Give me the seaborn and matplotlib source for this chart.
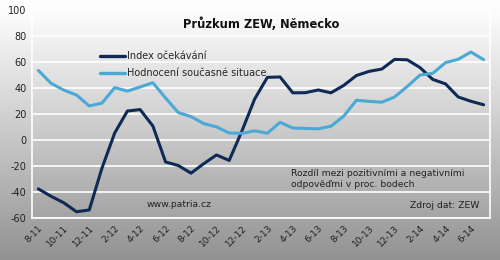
import numpy as np
import pandas as pd
import matplotlib
matplotlib.use("Agg")
import matplotlib.pyplot as plt
from matplotlib.colors import LinearSegmentedColormap
import seaborn as sns

months = ["8-11", "9-11", "10-11", "11-11", "12-11", "1-12", "2-12", "3-12", "4-12", "5-12",
          "6-12", "7-12", "8-12", "9-12", "10-12", "11-12", "12-12", "1-13", "2-13", "3-13",
          "4-13", "5-13", "6-13", "7-13", "8-13", "9-13", "10-13", "11-13", "12-13", "1-14",
          "2-14", "3-14", "4-14", "5-14", "6-14", "7-14"]
expectations = [-37.6, -43.3, -48.3, -55.2, -53.8, -21.6, 5.4, 22.3, 23.4, 10.8,
                -16.9, -19.6, -25.5, -18.2, -11.5, -15.7, 6.9, 31.5, 48.2, 48.5,
                36.3, 36.4, 38.5, 36.3, 42.0, 49.6, 52.8, 54.6, 62.0, 61.7,
                55.7, 46.6, 43.2, 33.1, 29.8, 27.1]
current = [53.5, 43.6, 38.4, 34.6, 26.2, 28.4, 40.3, 37.6, 40.8, 44.1,
           32.3, 21.1, 18.0, 12.6, 10.1, 5.4, 5.1, 7.1, 5.2, 13.6,
           9.2, 8.9, 8.6, 10.6, 18.3, 30.6, 29.7, 29.1, 33.1, 41.2,
           50.0, 51.3, 59.5, 62.1, 67.7, 61.8]
series_names = ["Index očekávání", "Hodnocení současné situace"]
series_colors = ["#0f2a55", "#4ba9d6"]
y_ticks = [-60, -40, -20, 0, 20, 40, 60, 80, 100]

df = pd.DataFrame({
    "idx": list(range(len(months))) * 2,
    "value": expectations + current,
    "series": [series_names[0]] * len(months) + [series_names[1]] * len(months),
})

sns.set_theme(style="white")
plt.rcParams["font.family"] = ["DejaVu Sans"]

fig = plt.figure(figsize=(5, 2.6), dpi=100)
bg = fig.add_axes([0, 0, 1, 1], zorder=0)
grad = np.linspace(0, 1, 256).reshape(-1, 1)
cmap = LinearSegmentedColormap.from_list(
    "bg", [(0.0, "#ffffff"), (0.05, "#fcfcfc"), (0.5, "#cbcbcb"), (1.0, "#929292")])
bg.imshow(grad, aspect="auto", cmap=cmap, extent=[0, 1, 0, 1])
bg.axis("off")

ax = fig.add_axes([0.064, 0.1615, 0.916, 0.8], zorder=1)
ax.set_facecolor("none")
sns.lineplot(data=df, x="idx", y="value", hue="series", palette=series_colors,
             hue_order=series_names, linewidth=2.2, ax=ax, legend=True)

ax.set_xlim(-0.5, len(months) - 0.5)
ax.set_ylim(-60, 100)
ax.set_yticks(y_ticks)
ax.set_yticklabels([str(v) for v in y_ticks], fontsize=7, color="#222222")
ax.yaxis.grid(True, color="white", linewidth=1.2)
ax.set_axisbelow(True)
ax.tick_params(axis="y", length=0, pad=4)

ax.set_xticks(list(range(0, len(months), 2)))
ax.set_xticklabels(months[::2], rotation=45, ha="right", rotation_mode="anchor",
                   fontsize=6.5, color="#222222")
ax.tick_params(axis="x", length=0, pad=4)
ax.set_xticks([i - 0.5 for i in range(0, len(months) + 1, 2)], minor=True)
ax.tick_params(axis="x", which="minor", length=3, color="white", width=1.2, direction="inout")
ax.set_xlabel("")
ax.set_ylabel("")

for side in ["left", "bottom", "right"]:
    ax.spines[side].set_color("white")
    ax.spines[side].set_linewidth(1.2)
    ax.spines[side].set_visible(True)
ax.spines["top"].set_visible(False)

ax.text(0.5, 0.93, "Průzkum ZEW, Německo", transform=ax.transAxes, ha="center",
        va="center", fontsize=8.3, fontweight="bold", color="#111111")

leg = ax.legend(loc="upper left", bbox_to_anchor=(0.14, 0.82), frameon=False,
                fontsize=7, handlelength=2.6, handletextpad=0.15, labelspacing=0.7,
                borderaxespad=0)
for line in leg.get_lines():
    line.set_linewidth(2.4)

ax.text(19.85, -22.5, "Rozdíl mezi pozitivními a negativními\nodpověďmi v proc. bodech",
        fontsize=6.7, color="#222222", va="top", ha="left", linespacing=1.2)
ax.text(34.7, -50, "Zdroj dat: ZEW", fontsize=6.7, color="#222222", ha="right", va="center")
ax.text(11.05, -49.5, "www.patria.cz", fontsize=6.7, color="#222222", ha="center", va="center")

fig.savefig("out.png", dpi=100)
